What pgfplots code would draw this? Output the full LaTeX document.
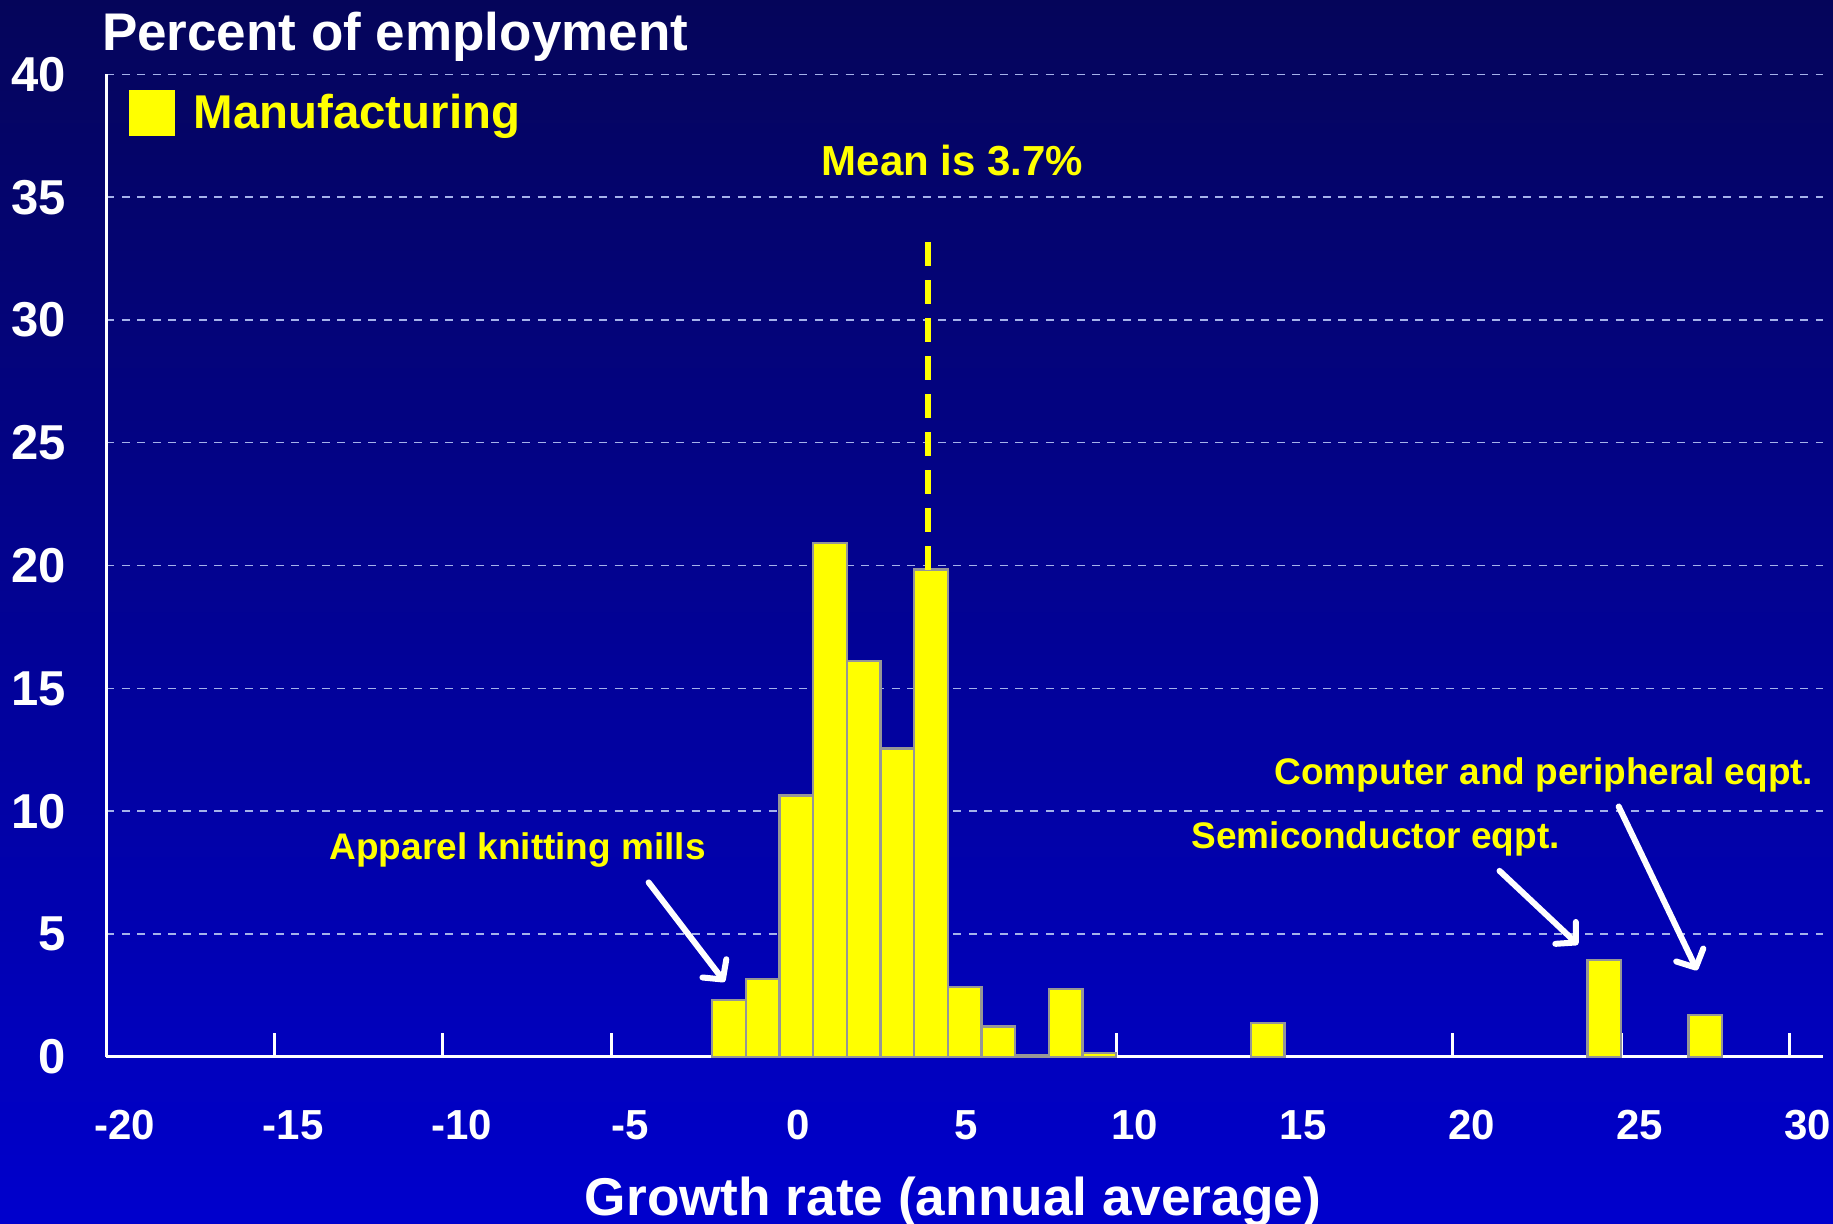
\documentclass[border=0pt]{standalone}
\usepackage{fontspec}
\setmainfont{Liberation Sans}
\usepackage{pgfplots}
\pgfplotsset{compat=1.18}
\usetikzlibrary{arrows.meta}
\definecolor{bgtop}{RGB}{5,5,90}
\definecolor{bgbot}{RGB}{0,0,205}
\definecolor{gridc}{RGB}{165,178,235}
\definecolor{bargray}{RGB}{150,150,150}
\definecolor{ylw}{RGB}{255,255,0}
\begin{document}
\begin{tikzpicture}
\shade[top color=bgtop, bottom color=bgbot] (0,0) rectangle (916.5pt,612pt);
\useasboundingbox (0,0) rectangle (916.5pt,612pt);
\begin{axis}[
  at={(53.2pt,83.6pt)}, anchor=south west,
  scale only axis, width=858.3pt, height=491.2pt,
  xmin=-20, xmax=31, ymin=0, ymax=40,
  axis x line=bottom, axis y line=left,
  axis line style={white, line width=1.5pt, -},
  xtick={-20,-15,...,30},
  xticklabels={-20,-15,-10,-5,0,5,10,15,20,25,30},
  ytick={0,5,...,40},
  tick align=inside, major tick length=11.7pt,
  xtick style={white, line width=1.5pt},
  ytick style={draw=none},
  ymajorgrids, grid style={gridc, line width=0.7pt, dash pattern=on 4pt off 3.7pt},
  /pgf/number format/assume math mode=true,
  xticklabel style={font=\fontsize{21}{24}\selectfont\bfseries, text=white, anchor=base, inner sep=0pt, yshift=-41.5pt, xshift=9.3pt},
  yticklabel style={font=\fontsize{24.5}{28}\selectfont\bfseries, text=white, anchor=east, inner sep=0pt, xshift=-20pt},
  legend style={draw=none, fill=none, at={(0,1)}, anchor=north west, xshift=11.1pt, yshift=-7.6pt,
     font=\fontsize{23.7}{28}\selectfont\bfseries, text=ylw, inner sep=0pt,
     /tikz/every odd column/.append style={column sep=7.5pt}},
  legend cell align=left,
  clip=false,
]
\addplot[ybar, bar width=1, fill=ylw, draw=bargray, line width=1.2pt,
  legend image code/.code={\fill[ylw] (0pt,-10.8pt) rectangle (21.6pt,10.8pt);}]
coordinates {
(-1.5,2.32) (-0.5,3.17) (0.5,10.64) (1.5,20.93) (2.5,16.12) (3.5,12.56) (4.5,19.84)
(5.5,2.84) (6.5,1.23) (7.5,0.07) (8.5,2.75) (9.5,0.15)
(14.5,1.38) (24.5,3.95) (27.5,1.70)
};
\addlegendentry{Manufacturing}
\addplot[ylw, line width=3pt, dash pattern=on 12pt off 7pt, forget plot]
coordinates {(4.4,19.84) (4.4,33.6)};
\node[text=ylw, font=\fontsize{21}{24}\selectfont\bfseries] at (axis cs:5.14,36.48) {Mean is 3.7\%};
\node[text=ylw, font=\fontsize{18.5}{22}\selectfont\bfseries] at (axis cs:-7.78,8.43) {Apparel knitting mills};
\node[text=ylw, font=\fontsize{18.5}{22}\selectfont\bfseries] at (axis cs:17.71,8.86) {Semiconductor eqpt.};
\node[text=ylw, font=\fontsize{18.5}{22}\selectfont\bfseries] at (axis cs:22.71,11.48) {Computer and peripheral eqpt.};
\draw[white, line width=3pt, line cap=round, -{Straight Barb[length=7pt, width=15pt, round]}] (axis cs:-3.89,7.1) -- (axis cs:-1.63,3.05);
\draw[white, line width=3pt, line cap=round, -{Straight Barb[length=7pt, width=15pt, round]}] (axis cs:21.39,7.57) -- (axis cs:23.72,4.57);
\draw[white, line width=3pt, line cap=round, -{Straight Barb[length=7pt, width=15pt, round]}] (axis cs:24.93,10.19) -- (axis cs:27.26,3.52);
\end{axis}
\node[anchor=base west, text=white, font=\fontsize{26.5}{30}\selectfont\bfseries] at (47.5pt,586.8pt) {Percent of employment};
\node[anchor=base, text=white, font=\fontsize{26.6}{30}\selectfont\bfseries] at (476.5pt,4pt) {Growth rate (annual average)};
\end{tikzpicture}
\end{document}
